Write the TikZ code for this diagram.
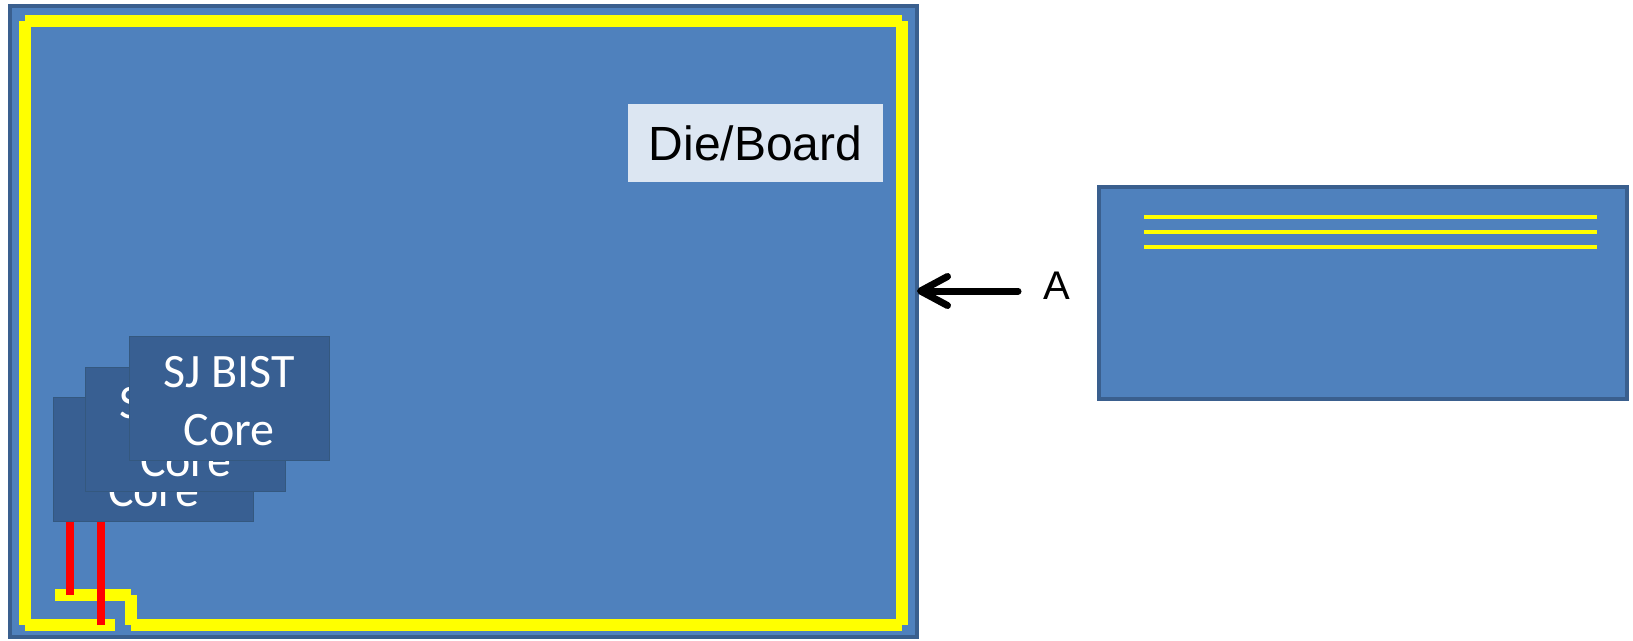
\documentclass[tikz,border=0pt]{standalone}
\usepackage{fontspec}
\setmainfont{Liberation Sans}
\newfontfamily\corefont{Carlito}
\usetikzlibrary{arrows.meta}

\definecolor{plate}{HTML}{4F81BD}
\definecolor{plateedge}{HTML}{3A5F8E}
\definecolor{corefill}{HTML}{385F92}
\definecolor{coreedge}{HTML}{34587F}
\definecolor{tagfill}{HTML}{DCE6F2}
\definecolor{wireyellow}{HTML}{FFFF00}
\definecolor{tapred}{HTML}{FF0000}

\tikzset{
  plate/.style={draw=plateedge, fill=plate, line width=4pt, inner sep=0pt, outer sep=0pt},
  corebox/.style={draw=coreedge, fill=corefill, line width=1pt, minimum width=200pt,
    minimum height=124pt, inner sep=0pt, align=center, text=white,
    font=\corefont\fontsize{48pt}{58pt}\selectfont},
  corelabel/.style={inner sep=0pt, align=center, text=white,
    font=\corefont\fontsize{48pt}{58pt}\selectfont},
  tagbox/.style={fill=tagfill, minimum width=255pt, minimum height=78pt, inner sep=0pt,
    font=\fontsize{48pt}{58pt}\selectfont},
  wire/.style={draw=wireyellow, line width=12pt, line cap=butt},
  thinwire/.style={draw=wireyellow, line width=4pt, line cap=butt},
  tap/.style={draw=tapred, line width=7.5pt, line cap=butt},
  pointer/.style={draw=black, line width=7pt, line cap=round,
    -{Straight Barb[length=27pt, width=29pt, round]}},
}

\begin{document}
\begin{tikzpicture}[x=1pt, y=-1pt]
  \useasboundingbox[fill=white] (0,0) rectangle (1633,640);

  % die / board outline
  \node[plate, minimum width=907pt, minimum height=631pt] (die) at (463.5,321.5) {};
  \node[tagbox] (tag) at (755.5,143) {Die/Board};

  % boundary scan ring
  \coordinate (r1) at (55,595);
  \coordinate (r2) at (131,595);
  \coordinate (r3) at (131,625);
  \coordinate (r4) at (902,625);
  \coordinate (r5) at (902,21);
  \coordinate (r6) at (25,21);
  \coordinate (r7) at (25,625);
  \coordinate (r8) at (115,625);
  \path[wire] (r1) -- (r2) (r2) -- (r3) (r3) -- (r4) (r4) -- (r5)
              (r5) -- (r6) (r6) -- (r7) (r7) -- (r8);

  % stacked cores, each label sitting a little below the box centre
  \node[corebox] (core1) at (153.5,459) {};
  \node[corelabel] at ([yshift=-3pt]core1.center) {SJ BIST\\Core};
  \node[corebox] (core2) at (185.5,429) {};
  \node[corelabel] at ([yshift=-3pt]core2.center) {SJ BIST\\Core};
  \node[corebox] (core3) at (229,398) {};
  \node[corelabel] at ([yshift=-3pt]core3.center) {SJ BIST\\Core};

  % taps from the core to the ring
  \coordinate (t1) at (70,595);
  \coordinate (t2) at (101,625);
  \draw[tap] (core1.south -| t1) -- (t1);
  \draw[tap] (core1.south -| t2) -- (t2);

  % side view
  \node[plate, minimum width=528pt, minimum height=212pt] (side) at (1363,293) {};
  \coordinate (s1) at (1144,217);
  \coordinate (s2) at (1144,232);
  \coordinate (s3) at (1144,247);
  \coordinate (e1) at (1597,217);
  \path[thinwire] (s1) -- (s1 -| e1) (s2) -- (s2 -| e1) (s3) -- (s3 -| e1);

  % view direction
  \node[font=\fontsize{40pt}{48pt}\selectfont, inner sep=0pt] (alabel) at (1057,286) {A};
  \coordinate (tail) at (1018,291);
  \draw[pointer] (tail) -- (tail -| die.east);
\end{tikzpicture}
\end{document}
